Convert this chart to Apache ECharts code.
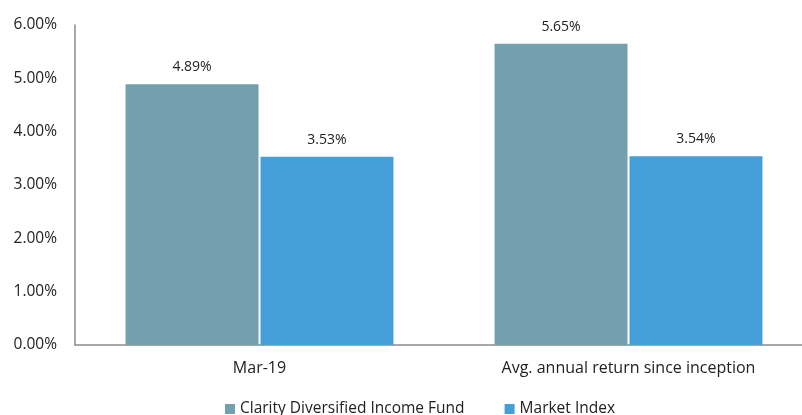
<!DOCTYPE html>
<html>
<head>
<meta charset="utf-8">
<script src="https://cdn.jsdelivr.net/npm/echarts@6/dist/echarts.min.js"></script>
<style>
  html, body { margin: 0; padding: 0; background: #fff; }
  #chart { width: 802px; height: 415px; }
</style>
</head>
<body>
<div id="chart"></div>
<script>
const categories = ['Mar-19', 'Avg. annual return since inception']
const fundName = 'Clarity Diversified Income Fund'
const indexName = 'Market Index'
const fundValues = [4.89, 5.65]
const indexValues = [3.53, 3.54]

const chart = echarts.init(document.getElementById('chart'))
const font = '"Open Sans", sans-serif'

const options = {
  animation: false,
  textStyle: { fontFamily: font },
  grid: { left: 75, top: 25, width: 738, height: 320, outerBoundsMode: 'none', containLabel: false },
  legend: {
    left: 220,
    top: 396,
    itemWidth: 10,
    itemHeight: 10,
    itemGap: 40,
    icon: 'rect',
    textStyle: { fontFamily: font, fontSize: 15.5, color: '#222' },
    data: [fundName, indexName],
  },
  xAxis: {
    type: 'category',
    data: categories,
    axisLine: { show: true, lineStyle: { color: '#8c8c8c', width: 1.5 } },
    axisTick: { show: false },
    axisLabel: { color: '#222', fontSize: 16, margin: 15 },
  },
  yAxis: {
    type: 'value',
    min: 0,
    max: 6,
    interval: 1,
    axisLine: { show: true, lineStyle: { color: '#8c8c8c', width: 1.5 } },
    axisTick: { show: false },
    splitLine: { show: false },
    axisLabel: {
      color: '#222',
      fontSize: 15.5,
      margin: 18,
      formatter: (v) => v.toFixed(2) + '%',
    },
  },
  series: [
    {
      name: fundName,
      type: 'bar',
      data: fundValues,
      barCategoryGap: '27.4%',
      barGap: '1.5%',
      itemStyle: { color: '#739fae' },
      label: {
        show: true,
        position: 'top',
        distance: 10,
        fontSize: 14,
        color: '#222',
        formatter: (p) => p.value.toFixed(2) + '%',
      },
    },
    {
      name: indexName,
      type: 'bar',
      data: indexValues,
      itemStyle: { color: '#449ed7' },
      label: {
        show: true,
        position: 'top',
        distance: 10,
        fontSize: 14,
        color: '#222',
        formatter: (p) => p.value.toFixed(2) + '%',
      },
    },
  ],
}
chart.setOption(options)
</script>
</body>
</html>
